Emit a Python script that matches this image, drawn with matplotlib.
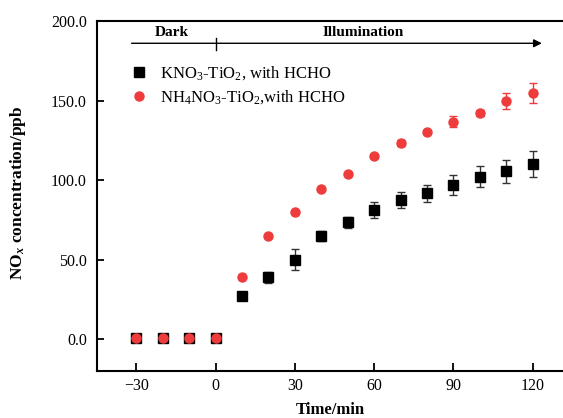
import numpy as np
import matplotlib
matplotlib.use("Agg")
import matplotlib.pyplot as plt

plt.rcParams["font.family"] = ["Liberation Serif", "DejaVu Serif"]
plt.rcParams["mathtext.fontset"] = "custom"
plt.rcParams["mathtext.rm"] = "Liberation Serif"
plt.rcParams["mathtext.it"] = "Liberation Serif:italic:bold"
plt.rcParams["mathtext.bf"] = "Liberation Serif:bold"

# data
time_min = [-30, -20, -10, 0, 10, 20, 30, 40, 50, 60, 70, 80, 90, 100, 110, 120]
kno3 = [1.0, 1.0, 1.0, 1.0, 27.0, 39.0, 50.0, 64.6, 73.4, 81.4, 87.3, 91.7, 97.1, 102.1, 105.5, 110.3]
kno3_err = [0, 0, 0, 0, 0, 3.5, 6.4, 3.1, 3.6, 5.1, 5.1, 5.3, 6.2, 6.6, 7.3, 8.1]
nh4no3 = [0.8, 0.8, 0.8, 0.8, 39.0, 64.6, 79.9, 94.1, 104.1, 114.9, 123.5, 130.4, 136.7, 142.3, 149.7, 154.5]
nh4no3_err = [0, 0, 0, 0, 0, 0, 0, 0, 0, 1.0, 1.8, 1.0, 3.6, 1.8, 4.8, 6.3]

series_labels = ["KNO$_3$-TiO$_2$, with HCHO", "NH$_4$NO$_3$-TiO$_2$,with HCHO"]
x_ticks = [-30, 0, 30, 60, 90, 120]
y_ticks = [0, 50, 100, 150, 200]

# phase arrow (data coords)
arrow_y = 186
arrow_start, arrow_end = -31.8, 123.5
light_on = 0

fig = plt.figure(figsize=(5.63, 4.18), dpi=100)
ax = fig.add_axes([96.7 / 563, 1 - 371 / 418, 1 - 96.7 / 563, 350 / 418])

red = "#EE3B3B"
eb1 = ax.errorbar(time_min, kno3, yerr=kno3_err, fmt="s", color="black", ms=6.5,
                  ecolor="#333333", elinewidth=1, capsize=3, capthick=1, zorder=3)
eb2 = ax.errorbar(time_min, nh4no3, yerr=nh4no3_err, fmt="o", color=red, ms=6.5,
                  ecolor=red, elinewidth=1, capsize=3, capthick=1, zorder=4)

ax.set_xlim(-45, 131.5)
ax.set_ylim(-20, 200)
ax.set_xticks(x_ticks)
ax.set_yticks(y_ticks)
ax.set_yticklabels([f"{v:.1f}" for v in y_ticks])
ax.tick_params(axis="x", direction="in", length=6, width=1.3, labelsize=11.5, pad=5)
ax.tick_params(axis="y", direction="in", length=5, width=1.3, labelsize=11.5, pad=7)
for side in ["left", "bottom", "top"]:
    ax.spines[side].set_linewidth(1.5)
ax.spines["right"].set_visible(False)

ax.set_xlabel("Time/min", fontsize=12, fontweight="bold")
ax.set_ylabel("NO$_{x}$ concentration/ppb", fontsize=12.5, fontweight="bold")
ax.xaxis.set_label_coords(0.5, -0.088)
ax.yaxis.set_label_coords(-0.147, 0.51)

# dark / illumination arrow
ax.annotate("", xy=(arrow_end, arrow_y), xytext=(arrow_start, arrow_y),
            arrowprops=dict(arrowstyle="-|>", color="black", lw=1, mutation_scale=12,
                            shrinkA=0, shrinkB=0))
ax.plot([light_on, light_on], [arrow_y - 4.5, arrow_y + 3.5], color="black", lw=1)
ax.text((arrow_start + light_on) / 2 - 0.5, arrow_y + 3, "Dark", ha="center", va="bottom",
        fontsize=11, fontweight="bold")
ax.text(55.8, arrow_y + 3, "Illumination", ha="center", va="bottom",
        fontsize=11, fontweight="bold")

ax.legend([eb1[0], eb2[0]], series_labels, loc="upper left", bbox_to_anchor=(0.058, 0.895),
          frameon=False, fontsize=12, handlelength=1.0, handletextpad=0.75,
          labelspacing=0.35, borderaxespad=0)

fig.savefig("out.png", dpi=100)
